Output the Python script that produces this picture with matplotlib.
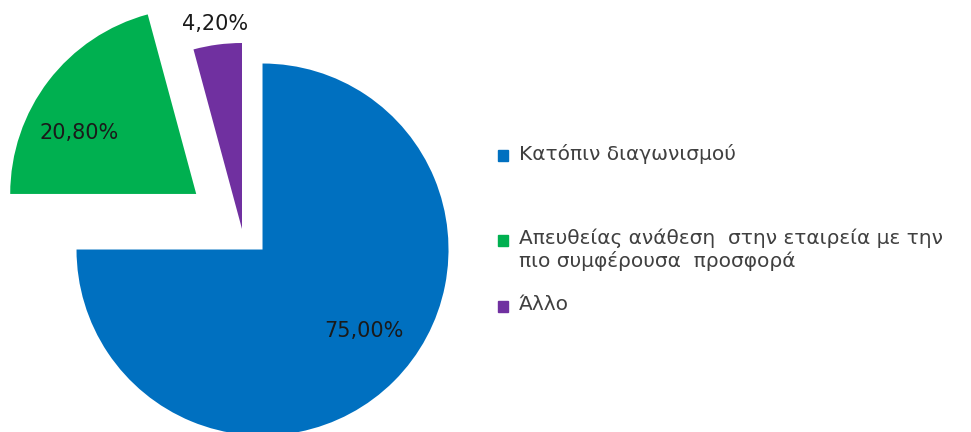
import numpy as np
import matplotlib
matplotlib.use("Agg")
import matplotlib.pyplot as plt
from matplotlib.patches import Rectangle

plt.rcParams["font.family"] = ["DejaVu Sans"]

# data
labels = ["Κατόπιν διαγωνισμού",
          "Απευθείας ανάθεση  στην εταιρεία με την\nπιο συμφέρουσα  προσφορά",
          "Άλλο"]
values = [75.00, 20.80, 4.20]
colors = ["#0070C0", "#00B050", "#7030A0"]
explode = [0.156, 0.31, 0.0]

W, H = 971, 432
R_PX = 186.0            # pie radius in pixels
CX, CY = 242.0, 229.0   # pie centre in pixels (y from top)

fig = plt.figure(figsize=(W / 100, H / 100), dpi=100)
fig.patch.set_facecolor("white")
ax = fig.add_axes([0, 0, 1, 1])

wedges, _, autotexts = ax.pie(
    values, colors=colors, explode=explode, startangle=90,
    counterclock=False, radius=1.0, center=(0, 0),
    autopct=lambda p: f"{p:.2f}%".replace(".", ","),
    pctdistance=0.70, wedgeprops=dict(linewidth=0),
    textprops=dict(fontsize=15, color="#1a1a1a"))

# label placement tweaks (distance from wedge apex, angle shift in deg)
lab_r = [0.70, 0.71, 1.11]
lab_shift = [6, 10, 0]
for w, t, ex, r, sh in zip(wedges, autotexts, explode, lab_r, lab_shift):
    mid = np.deg2rad((w.theta1 + w.theta2) / 2)
    ang = np.deg2rad((w.theta1 + w.theta2) / 2 + sh)
    cx, cy = ex * np.cos(mid), ex * np.sin(mid)
    t.set_position((cx + r * np.cos(ang), cy + r * np.sin(ang)))
    t.set_ha("center")
    t.set_va("center")

ax.set_xlim(-CX / R_PX, (W - CX) / R_PX)
ax.set_ylim(-(H - CY) / R_PX, CY / R_PX)
ax.set_aspect("auto")
ax.axis("off")

# legend, drawn by hand so entry spacing matches
leg_y = [155, 240, 306]
sq = 11
for lab, c, y in zip(labels, colors, leg_y):
    fig.patches.append(Rectangle(((503 - sq / 2) / W, 1 - (y + sq / 2) / H),
                                 sq / W, sq / H, color=c,
                                 transform=fig.transFigure))
    fig.text(519 / W, 1 - (y - 11) / H, lab, ha="left", va="top",
             fontsize=14.5, color="#404040", linespacing=1.15)

fig.savefig("out.png", dpi=100, facecolor="white")
